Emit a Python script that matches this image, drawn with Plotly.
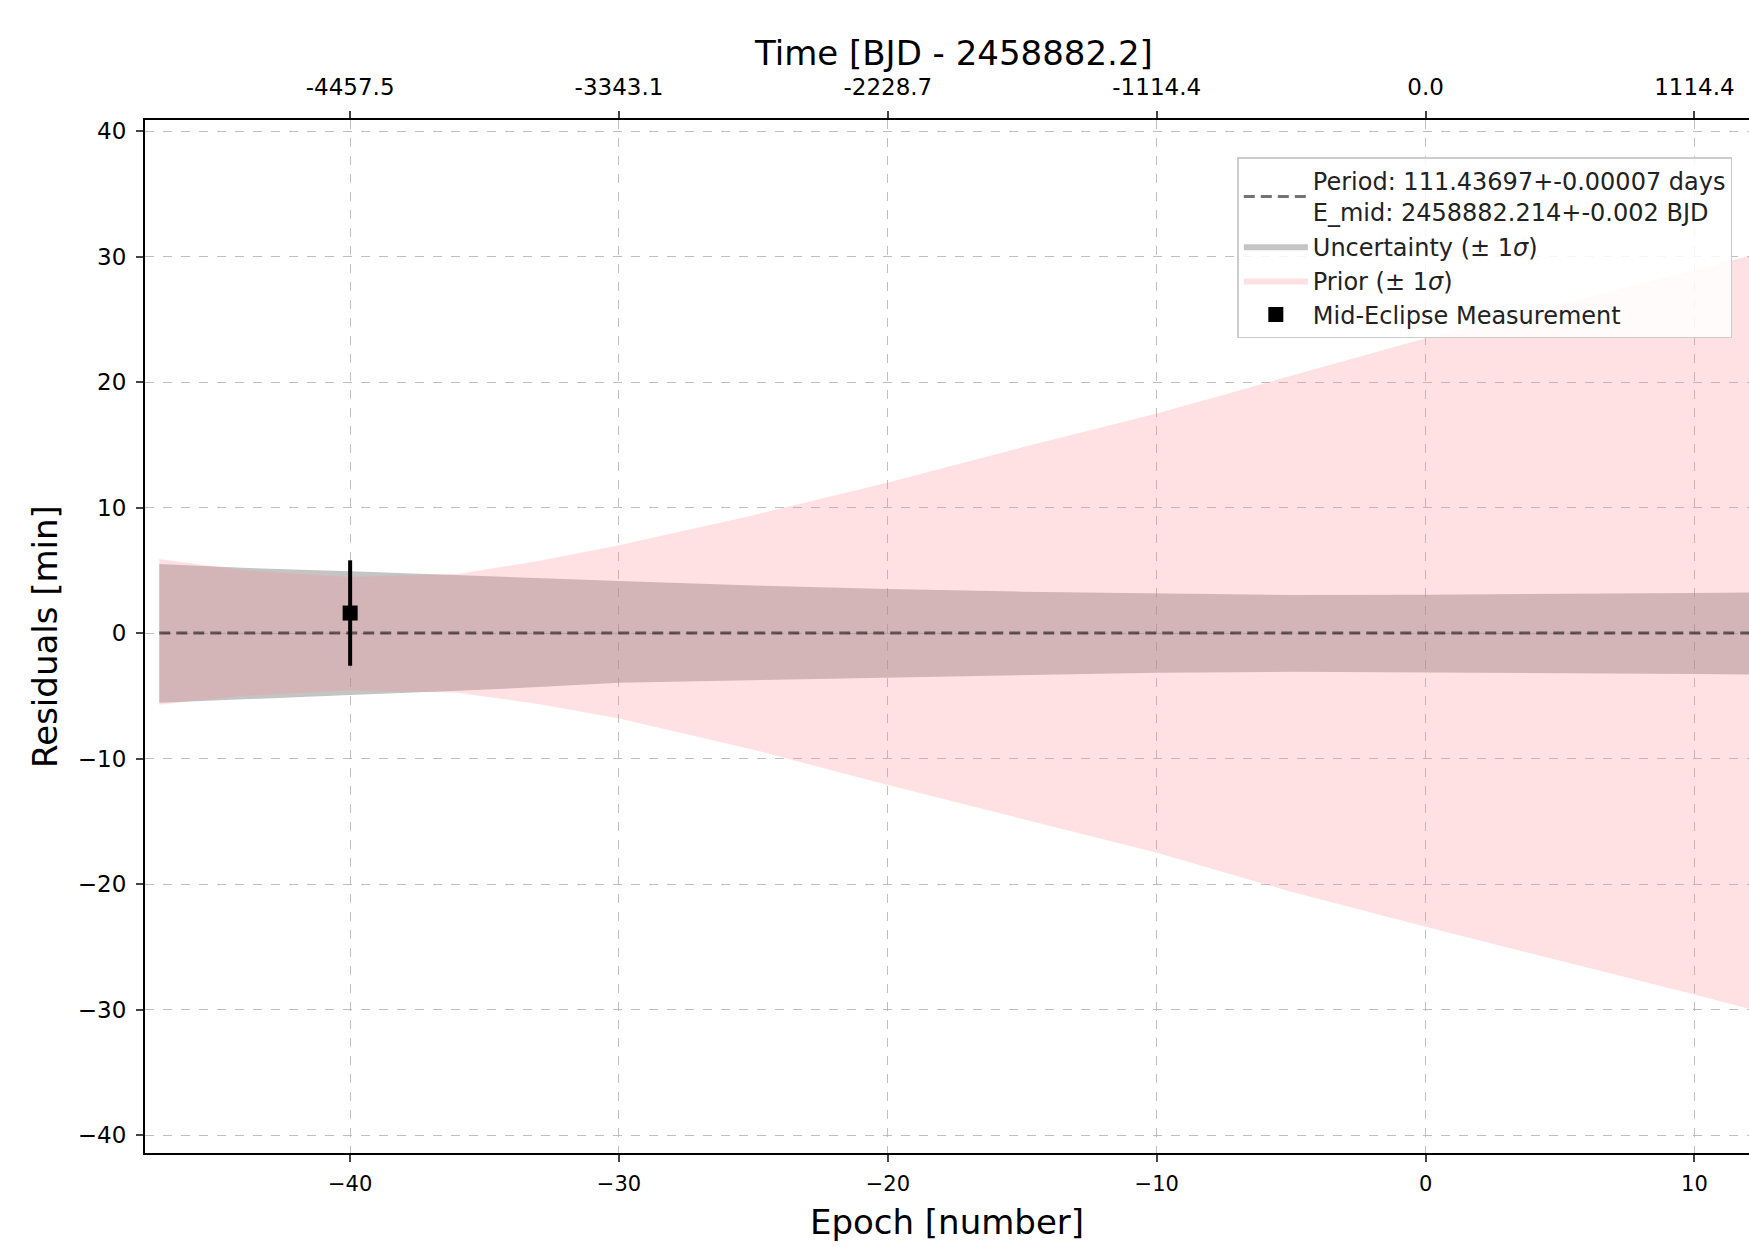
import plotly.graph_objects as go

# ---- data ----
epochs = [-47.1, -44, -40, -36, -33, -30, -25, -20, -15, -10, -5, 0, 5, 10, 12.5]
unc_upper = [5.5, 5.2, 4.93, 4.6, 4.35, 4.15, 3.8, 3.52, 3.3, 3.16, 3.04, 3.06, 3.1, 3.2, 3.25]
unc_lower = [-5.55, -5.25, -4.93, -4.6, -4.3, -3.95, -3.75, -3.6, -3.35, -3.16, -3.08, -3.15, -3.2, -3.25, -3.3]
prior_upper = [5.9, 5.0, 4.48, 4.7, 5.75, 7.0, 9.4, 12.0, 14.8, 17.5, 20.5, 23.5, 26.2, 28.9, 30.3]
prior_lower = [-5.7, -5.0, -4.56, -4.75, -5.65, -6.8, -9.3, -12.1, -14.8, -17.5, -20.6, -23.4, -26.1, -28.8, -30.2]
line_epochs = [-47.1, 12.5]
line_resid = [0.0, 0.0]

meas_epoch = [-40]
meas_resid = [1.6]
meas_err = [4.2]

bottom_ticks = [-40, -30, -20, -10, 0, 10]
top_tick_labels = ["-4457.5", "-3343.1", "-2228.7", "-1114.4", "0.0", "1114.4"]
y_ticks = [-40, -30, -20, -10, 0, 10, 20, 30, 40]

period_label = "Period: 111.43697+-0.00007 days<br>E_mid: 2458882.214+-0.002 BJD"
top_title = "Time [BJD - 2458882.2]"

FONT = "DejaVu Sans"

fig = go.Figure()

# uncertainty band (grey)
fig.add_trace(go.Scatter(
    x=epochs + epochs[::-1], y=unc_upper + unc_lower[::-1],
    fill="toself", fillcolor="rgba(128,128,128,0.465)",
    line=dict(width=0), mode="lines", name="Uncertainty (± 1<i>σ</i>)",
    legendrank=2, hoverinfo="skip"))

# prior band (pink)
fig.add_trace(go.Scatter(
    x=epochs + epochs[::-1], y=prior_upper + prior_lower[::-1],
    fill="toself", fillcolor="rgba(255,140,151,0.26)",
    line=dict(width=0), mode="lines", name="Prior (± 1<i>σ</i>)",
    legendrank=3, hoverinfo="skip"))

# best-fit ephemeris line
fig.add_trace(go.Scatter(
    x=line_epochs, y=line_resid, mode="lines",
    line=dict(color="rgba(0,0,0,0.55)", width=3, dash="11px,6px"),
    name=period_label, legendrank=1))

# measurement
fig.add_trace(go.Scatter(
    x=meas_epoch, y=meas_resid, mode="markers",
    marker=dict(symbol="square", size=15, color="black"),
    error_y=dict(type="data", array=meas_err, color="black", thickness=4, width=0),
    name="Mid-Eclipse Measurement", legendrank=4))

# dummy trace for top axis
fig.add_trace(go.Scatter(x=[None], y=[None], xaxis="x2", showlegend=False))

xr = [-47.63, 12.03]
grid = dict(showgrid=True, gridcolor="rgba(175,175,175,0.8)", griddash="dash", gridwidth=1)

fig.update_layout(
    width=1749, height=1247,
    margin=dict(l=145, r=0, t=120, b=94),
    paper_bgcolor="white", plot_bgcolor="white",
    font=dict(family=FONT, color="black", size=20),
    xaxis=dict(
        range=xr, tickvals=bottom_ticks, ticks="outside", ticklen=7, tickwidth=1.5,
        showline=True, linecolor="black", linewidth=2, mirror=False,
        zeroline=False, tickfont=dict(size=21), ticklabelstandoff=4,
        title=dict(text="Epoch [number]", font=dict(size=34), standoff=15),
        **grid),
    xaxis2=dict(
        range=xr, overlaying="x", side="top", anchor="y",
        tickvals=bottom_ticks, ticktext=top_tick_labels,
        ticks="outside", ticklen=7, tickwidth=1.5,
        showline=True, linecolor="black", linewidth=2,
        showgrid=False, zeroline=False, tickfont=dict(size=23), ticklabelstandoff=7),
    yaxis=dict(
        range=[-41.42, 40.88], tickvals=y_ticks, ticks="outside", ticklen=7, tickwidth=1.5,
        showline=True, linecolor="black", linewidth=2, mirror=False,
        zeroline=False, tickfont=dict(size=23), ticklabelstandoff=5,
        title=dict(text="Residuals [min]", font=dict(size=34), standoff=10),
        **grid),
    legend=dict(
        x=0.681, y=0.964, xanchor="left", yanchor="top",
        bgcolor="rgba(255,255,255,0.85)", bordercolor="#cccccc", borderwidth=1.5,
        font=dict(size=24, family=FONT, color="#222222"),
        itemwidth=64, tracegroupgap=0),
    annotations=[dict(
        text=top_title, xref="paper", yref="paper", x=0.504, y=1.065,
        xanchor="center", yanchor="middle", showarrow=False,
        font=dict(size=34, family=FONT, color="black"))],
    showlegend=True,
)

fig.write_html(
    "out.html",
    config={"displayModeBar": False},
    post_script="document.body.style.margin='0';document.body.style.overflow='hidden';",
)
